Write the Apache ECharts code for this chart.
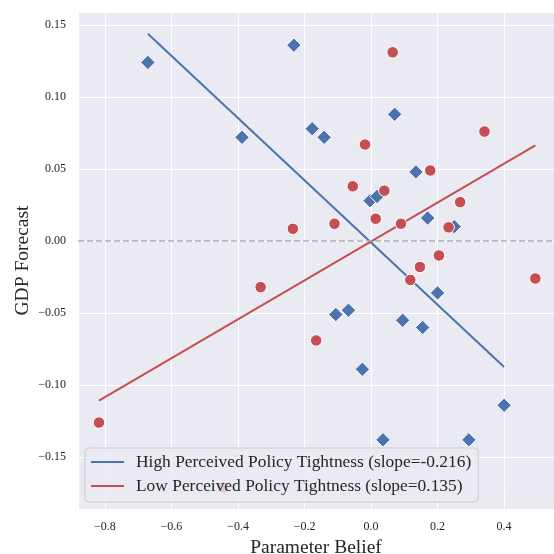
<!DOCTYPE html>
<html>
<head>
<meta charset="utf-8">
<script src="https://cdn.jsdelivr.net/npm/echarts@6/dist/echarts.min.js"></script>
<style>html,body{margin:0;padding:0;background:#fff}#c{width:554px;height:554px}</style>
</head>
<body>
<div id="c"></div>
<script>
// High Perceived Policy Tightness (blue diamonds)
const highX = [-0.671, -0.232, -0.388, -0.177, -0.141, 0.071, 0.135, -0.003, 0.018, 0.170, 0.250, -0.106, -0.068, 0.095, 0.155, 0.200, -0.026, 0.036, 0.294, 0.400];
const highY = [0.124, 0.136, 0.072, 0.078, 0.072, 0.088, 0.048, 0.028, 0.031, 0.016, 0.010, -0.051, -0.048, -0.055, -0.060, -0.036, -0.089, -0.138, -0.138, -0.114];
// Low Perceived Policy Tightness (red circles)
const lowX = [0.065, 0.341, -0.018, 0.178, -0.055, 0.040, 0.268, -0.110, 0.014, 0.090, 0.233, -0.235, -0.332, -0.165, -0.818, -0.444, 0.204, 0.147, 0.118, 0.494];
const lowY = [0.131, 0.076, 0.067, 0.049, 0.038, 0.035, 0.027, 0.012, 0.0155, 0.012, 0.0095, 0.0085, -0.032, -0.069, -0.126, -0.171, -0.010, -0.018, -0.027, -0.026];
// Fitted lines
const highSlope = -0.216, highIntercept = -0.001;
const lowSlope = 0.135, lowIntercept = -0.0003;
const highLabel = 'High Perceived Policy Tightness (slope=-0.216)';
const lowLabel = 'Low Perceived Policy Tightness (slope=0.135)';
const xTitle = 'Parameter Belief';
const yTitle = 'GDP Forecast';

const FONT = 'Liberation Serif';
const blue = '#4C72B0', red = '#C44E52';
function pairs(xs, ys) { return xs.map((x, i) => [x, ys[i]]); }
function fit(xs, m, b) {
  const lo = Math.min(...xs), hi = Math.max(...xs);
  return [[lo, m * lo + b], [hi, m * hi + b]];
}
function fmt(d) { return function (v) { const s = Math.abs(v).toFixed(d); return v < -1e-9 ? '\u2212' + s : s; }; }

const chart = echarts.init(document.getElementById('c'), null, {renderer: 'canvas'});
chart.setOption({
  animation: false,
  backgroundColor: '#ffffff',
  textStyle: {fontFamily: FONT},
  grid: {left: 78, right: 0, top: 12, bottom: 45, show: true, backgroundColor: '#EAEAF2', borderWidth: 0, containLabel: false, outerBoundsMode: 'none'},
  xAxis: {
    type: 'value', min: -0.881, max: 0.55, splitNumber: 7,
    axisLine: {show: false}, axisTick: {show: false},
    splitLine: {show: true, lineStyle: {color: '#ffffff', width: 1}},
    axisLabel: {showMinLabel: false, showMaxLabel: false, formatter: fmt(1), color: '#262626', fontFamily: FONT, fontSize: 12, margin: 12},
    name: xTitle, nameLocation: 'middle', nameGap: 28.5,
    nameTextStyle: {fontFamily: FONT, fontSize: 19.5, color: '#262626'}
  },
  yAxis: {
    type: 'value', min: -0.186, max: 0.159, splitNumber: 7,
    axisLine: {show: false}, axisTick: {show: false},
    splitLine: {show: true, lineStyle: {color: '#ffffff', width: 1}},
    axisLabel: {showMinLabel: false, showMaxLabel: false, formatter: fmt(2), color: '#262626', fontFamily: FONT, fontSize: 12, margin: 12},
    name: yTitle, nameLocation: 'middle', nameGap: 45, nameMoveOverlap: false,
    nameTextStyle: {fontFamily: FONT, fontSize: 19.5, color: '#262626'}
  },
  legend: {
    orient: 'vertical', left: 85, top: 448, z: 10,
    data: [highLabel, lowLabel],
    icon: 'rect',
    itemWidth: 33, itemHeight: 2, itemGap: 6,
    backgroundColor: 'rgba(234,234,242,0.8)', borderColor: '#cccccc', borderWidth: 1, borderRadius: 4,
    padding: [5, 7, 7, 6],
    textStyle: {fontFamily: FONT, fontSize: 17.4, lineHeight: 18, color: '#262626', padding: [0, 0, 0, 7]}
  },
  series: [
    {
      name: highLabel, type: 'line', data: fit(highX, highSlope, highIntercept),
      symbol: 'none', lineStyle: {color: blue, width: 2}, itemStyle: {color: blue}, z: 2,
      markLine: {
        silent: true, symbol: 'none', label: {show: false},
        lineStyle: {color: '#b0b0b4', type: [6, 3], width: 1.5},
        data: [{yAxis: 0}]
      }
    },
    {
      name: lowLabel, type: 'line', data: fit(lowX, lowSlope, lowIntercept),
      symbol: 'none', lineStyle: {color: red, width: 2}, itemStyle: {color: red}, z: 2
    },
    {
      name: 'high-pts', type: 'scatter', data: pairs(highX, highY), symbol: 'diamond', symbolSize: 14.5,
      itemStyle: {color: blue, borderColor: '#ffffff', borderWidth: 1, opacity: 1}, z: 3
    },
    {
      name: 'low-pts', type: 'scatter', data: pairs(lowX, lowY), symbol: 'circle', symbolSize: 11.5,
      itemStyle: {color: red, borderColor: '#ffffff', borderWidth: 1, opacity: 1}, z: 3
    }
  ]
});
</script>
</body>
</html>
